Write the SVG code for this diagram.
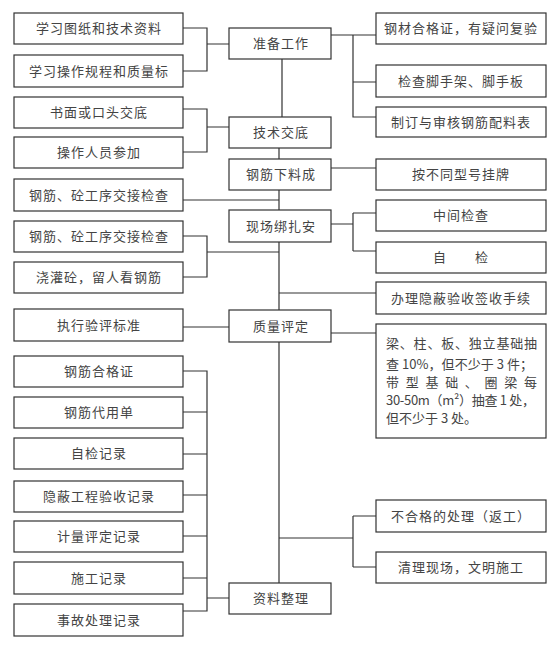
<svg xmlns="http://www.w3.org/2000/svg" width="554" height="645" viewBox="0 0 554 645">
<style>
.b{fill:#fff;stroke:#333;stroke-width:1.2}
.t{font-family:"Noto Sans CJK SC","Noto Sans CJK JP",sans-serif;font-size:13px;fill:#444;text-anchor:middle;letter-spacing:1px}
.l{font-family:"Noto Sans CJK SC","Noto Sans CJK JP",sans-serif;font-size:13px;fill:#444}
.c{fill:none;stroke:#333;stroke-width:1.2}
</style>
<rect width="554" height="645" fill="#fff"/>
<g id="connectors" class="c">
<path d="M183 28H207V71H183M207 44H229"/>
<path d="M183 109H207V152H183M207 127H229"/>
<path d="M183 200H279"/>
<path d="M183 236H207V277H183M207 252H279"/>
<path d="M183 327H229"/>
<path d="M183 371H207V611H183M183 412H207M183 454H207M183 495H207M183 536H207M183 578H207M207 598H229"/>
<path d="M282 59V117M279 148V159M279 190V210M279 242V310M279 342V583"/>
<path d="M331 35H376M353 35V117H376M353 82H376"/>
<path d="M331 168H376"/>
<path d="M331 224H353M353 213V251M353 213H376M353 251H376"/>
<path d="M279 293H376"/>
<path d="M331 333H376"/>
<path d="M279 538H353M353 516V567M353 516H376M353 567H376"/>
</g>
<g id="n1"><rect class="b" x="14" y="13" width="169" height="31"/><text class="t" x="99" y="33">学习图纸和技术资料</text></g>
<g id="n2"><rect class="b" x="14" y="55" width="169" height="32"/><text class="t" x="99" y="76">学习操作规程和质量标</text></g>
<g id="n3"><rect class="b" x="14" y="97" width="169" height="31"/><text class="t" x="99" y="117">书面或口头交底</text></g>
<g id="n4"><rect class="b" x="14" y="137" width="169" height="31"/><text class="t" x="99" y="157">操作人员参加</text></g>
<g id="n5"><rect class="b" x="14" y="179" width="169" height="32"/><text class="t" x="99" y="200">钢筋、砼工序交接检查</text></g>
<g id="n6"><rect class="b" x="14" y="221" width="169" height="31"/><text class="t" x="99" y="241">钢筋、砼工序交接检查</text></g>
<g id="n7"><rect class="b" x="14" y="262" width="169" height="31"/><text class="t" x="99" y="282">浇灌砼，留人看钢筋</text></g>
<g id="n8"><rect class="b" x="14" y="309" width="169" height="32"/><text class="t" x="99" y="330">执行验评标准</text></g>
<g id="n9"><rect class="b" x="14" y="356" width="169" height="31"/><text class="t" x="99" y="376">钢筋合格证</text></g>
<g id="n10"><rect class="b" x="14" y="397" width="169" height="31"/><text class="t" x="99" y="417">钢筋代用单</text></g>
<g id="n11"><rect class="b" x="14" y="438" width="169" height="31"/><text class="t" x="99" y="458">自检记录</text></g>
<g id="n12"><rect class="b" x="14" y="481" width="169" height="31"/><text class="t" x="99" y="501">隐蔽工程验收记录</text></g>
<g id="n13"><rect class="b" x="14" y="521" width="169" height="31"/><text class="t" x="99" y="541">计量评定记录</text></g>
<g id="n14"><rect class="b" x="14" y="562" width="169" height="32"/><text class="t" x="99" y="583">施工记录</text></g>
<g id="n15"><rect class="b" x="14" y="604" width="169" height="32"/><text class="t" x="99" y="625">事故处理记录</text></g>
<g id="c1"><rect class="b" x="229" y="28" width="102" height="31"/><text class="t" x="281" y="48">准备工作</text></g>
<g id="c2"><rect class="b" x="229" y="117" width="102" height="31"/><text class="t" x="281" y="137">技术交底</text></g>
<g id="c3"><rect class="b" x="229" y="159" width="102" height="31"/><text class="t" x="281" y="179">钢筋下料成</text></g>
<g id="c4"><rect class="b" x="229" y="210" width="102" height="32"/><text class="t" x="281" y="231">现场绑扎安</text></g>
<g id="c5"><rect class="b" x="229" y="310" width="102" height="32"/><text class="t" x="281" y="331">质量评定</text></g>
<g id="c6"><rect class="b" x="229" y="583" width="102" height="31"/><text class="t" x="281" y="603">资料整理</text></g>
<g id="r1"><rect class="b" x="376" y="13" width="170" height="31"/><text class="t" x="461" y="33">钢材合格证，有疑问复验</text></g>
<g id="r2"><rect class="b" x="376" y="65" width="170" height="32"/><text class="t" x="461" y="86">检查脚手架、脚手板</text></g>
<g id="r3"><rect class="b" x="376" y="107" width="170" height="30"/><text class="t" x="461" y="127">制订与审核钢筋配料表</text></g>
<g id="r4"><rect class="b" x="376" y="159" width="170" height="31"/><text class="t" x="461" y="179">按不同型号挂牌</text></g>
<g id="r5"><rect class="b" x="376" y="200" width="170" height="31"/><text class="t" x="461" y="220">中间检查</text></g>
<g id="r6"><rect class="b" x="376" y="242" width="170" height="31"/><text class="t" x="461" y="262" xml:space="preserve">自　　检</text></g>
<g id="r7"><rect class="b" x="376" y="282" width="170" height="32"/><text class="t" x="461" y="303">办理隐蔽验收签收手续</text></g>
<g id="r8"><rect class="b" x="376" y="324" width="170" height="114"/>
<text class="l" x="386" y="348" textLength="151" lengthAdjust="spacing">梁、柱、板、独立基础抽</text>
<text class="l" x="386" y="369" textLength="147" lengthAdjust="spacing">查 10%，但不少于 3 件；</text>
<text class="l" x="386" y="387" textLength="151" lengthAdjust="spacing">带型基础、圈梁每</text>
<text class="l" x="386" y="405" textLength="149" lengthAdjust="spacing">30-50m（m²）抽查 1 处，</text>
<text class="l" x="386" y="423">但不少于 3 处。</text>
</g>
<g id="r9"><rect class="b" x="376" y="500" width="170" height="32"/><text class="t" x="461" y="521">不合格的处理（返工）</text></g>
<g id="r10"><rect class="b" x="376" y="552" width="170" height="31"/><text class="t" x="461" y="572">清理现场，文明施工</text></g>
</svg>
